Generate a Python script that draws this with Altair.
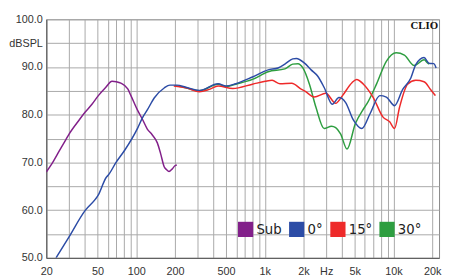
import altair as alt
import pandas as pd

# ---- data ----
sub_f = [20, 22.2, 25.1, 28.4, 30, 35.8, 40, 45.3, 50.8, 57.4, 64.9, 70, 76, 86, 91,
         102.6, 112, 122, 133, 146, 155, 165, 172, 180, 190, 200, 207]
sub_db = [68.0, 69.8, 72.3, 74.8, 75.9, 78.8, 80.5, 82.2, 84.0, 85.6, 87.0, 86.9, 86.6, 85.4, 84.0,
          80.9, 79.0, 77.0, 75.8, 74.1, 71.8, 69.1, 68.5, 68.1, 68.6, 69.3, 69.5]

b0_f = [23.8, 29.9, 40.3, 48.2, 50.8, 58.6, 60.5, 69.7, 81.6, 102.6, 112, 122, 138, 165, 183,
        207, 247, 310, 433, 499, 595, 802, 1062, 1266, 1432, 1648, 1760, 2035, 2290, 2572,
        2893, 3348, 3766, 4236, 4902, 5672, 6574, 7834, 8800, 10200, 11800, 13650, 14910,
        17290, 18870, 20600, 21460]
b0_db = [50.0, 54.3, 60.0, 62.3, 63.2, 66.9, 67.3, 70.0, 72.6, 77.2, 79.4, 81.0, 83.5, 85.6, 86.2,
         86.2, 85.7, 85.1, 86.5, 86.0, 86.5, 87.9, 89.4, 89.8, 90.6, 91.7, 91.8, 90.8, 89.4, 88.1,
         85.7, 82.2, 83.6, 82.6, 78.8, 77.1, 80.2, 84.0, 83.7, 81.9, 85.3, 87.7, 90.5,
         92.0, 90.8, 90.7, 89.8]

r15_f = [196, 247, 310, 370, 433, 564, 802, 1008, 1139, 1312, 1619, 1930, 2035, 2427, 2980,
         3554, 3990, 4757, 5168, 5844, 6966, 8300, 9346, 10200, 11140, 12880, 14910, 17290,
         19410, 21180]
r15_db = [86.0, 85.6, 84.8, 85.3, 86.0, 85.5, 86.4, 87.0, 87.2, 86.5, 86.6, 85.3, 85.0, 83.7, 84.5,
          82.4, 83.9, 86.7, 87.4, 86.4, 83.6, 79.5, 78.5, 77.1, 81.5, 86.4, 87.2, 86.9,
          85.3, 84.0]

g30_f = [200, 247, 310, 433, 499, 595, 802, 1062, 1432, 1648, 1810, 1976, 2222, 2500, 2893,
         3300, 3554, 3880, 4358, 5050, 5844, 6192, 7380, 8800, 10496, 12160, 14490, 17290,
         18310, 18870]
g30_db = [86.1, 85.6, 85.0, 86.4, 85.9, 86.4, 87.4, 89.0, 89.6, 90.6, 90.7, 89.8, 86.4, 81.5, 77.1,
          77.6, 77.3, 76.0, 72.8, 78.1, 81.2, 82.2, 86.4, 91.2, 93.0, 92.5, 90.3, 91.5,
          90.9, 90.6]

series = ["Sub", "0°", "15°", "30°"]
colors = ["#82208a", "#2c4ca6", "#ee2a2a", "#2e9e40"]

x_grid = [20, 30, 40, 50, 60, 70, 80, 90, 100, 200, 300, 400, 500, 600, 700, 800, 900,
          1000, 2000, 3000, 4000, 5000, 6000, 7000, 8000, 9000, 10000, 20000]
x_label_vals = [20, 50, 100, 200, 500, 1000, 2000, 3000, 5000, 10000, 20000]
x_label_txt = ["20", "50", "100", "200", "500", "1k", "2k", "Hz", "5k", "10k", "20k"]
y_grid = [50, 55, 60, 65, 70, 75, 80, 85, 90, 95, 100]
y_label_vals = [50, 60, 70, 80, 90, 95, 100]
y_label_txt = ["50.0", "60.0", "70.0", "80.0", "90.0", "dBSPL", "100.0"]

# ---- build table ----
frames = []
for name, fs, ds in [("Sub", sub_f, sub_db), ("0°", b0_f, b0_db),
                     ("15°", r15_f, r15_db), ("30°", g30_f, g30_db)]:
    frames.append(pd.DataFrame({"f": fs, "db": ds, "s": name}))
df = pd.concat(frames, ignore_index=True)

x_map = "{" + ",".join(f"'{v}':'{t}'" for v, t in zip(x_label_vals, x_label_txt)) + "}"
y_map = "{" + ",".join(f"'{v}':'{t}'" for v, t in zip(y_label_vals, y_label_txt)) + "}"

x_enc = alt.X("f:Q",
              scale=alt.Scale(type="log", domain=[20, 22620], nice=False),
              axis=alt.Axis(values=x_grid, title=None, ticks=False, labelPadding=8,
                            labelExpr=f"({x_map})[''+datum.value] || ''",
                            labelFlush=False, labelOverlap=False))
y_enc = alt.Y("db:Q",
              scale=alt.Scale(domain=[50, 100], nice=False, zero=False),
              axis=alt.Axis(values=y_grid, title=None, ticks=False, labelPadding=4,
                            labelExpr=f"({y_map})[''+datum.value] || ''",
                            labelOverlap=False))
cscale = alt.Scale(domain=series, range=colors)

legend = alt.Legend(title=None, orient="none", direction="horizontal",
                    legendX=195, legendY=206, padding=0,
                    symbolType="square", symbolSize=240,
                    symbolStrokeWidth=0, symbolOpacity=1,
                    labelFont="DejaVu Sans Condensed",
                    labelFontSize=15, labelColor="#222",
                    labelOffset=3, columnPadding=7)

# invisible filled squares carry the legend (filled square symbols)
legend_layer = (
    alt.Chart(df)
    .mark_square(filled=True, opacity=1, size=0)
    .encode(x=x_enc, y=y_enc, color=alt.Color("s:N", scale=cscale, legend=legend))
)

draw_order = ["Sub", "30°", "15°", "0°"]
layers = []
for name in draw_order:
    layers.append(
        alt.Chart(df).transform_filter(alt.datum.s == name)
        .mark_line(strokeWidth=1.5, clip=True, interpolate="monotone")
        .encode(x=x_enc, y=y_enc, color=alt.Color("s:N", scale=cscale, legend=None))
    )

clio = (
    alt.Chart(pd.DataFrame({"t": ["CLIO"]}))
    .mark_text(font="Liberation Serif", fontWeight="bold", fontSize=11,
               align="right", baseline="alphabetic", color="#111")
    .encode(text="t:N", x=alt.value(399), y=alt.value(10))
)

chart = (
    alt.layer(legend_layer, *layers, clio)
    .properties(width=400, height=243,
                autosize=alt.AutoSizeParams(type="none"),
                padding={"left": 39, "top": 9, "right": 3, "bottom": 17})
    .configure_view(stroke="#888", strokeWidth=1)
    .configure_axis(gridColor="#a8a8a8", gridWidth=1, domainColor="#555",
                    labelFont="Liberation Sans", labelFontSize=11, labelColor="#333")
)

chart.save("out.html", embed_options={"renderer": "svg", "actions": False})
